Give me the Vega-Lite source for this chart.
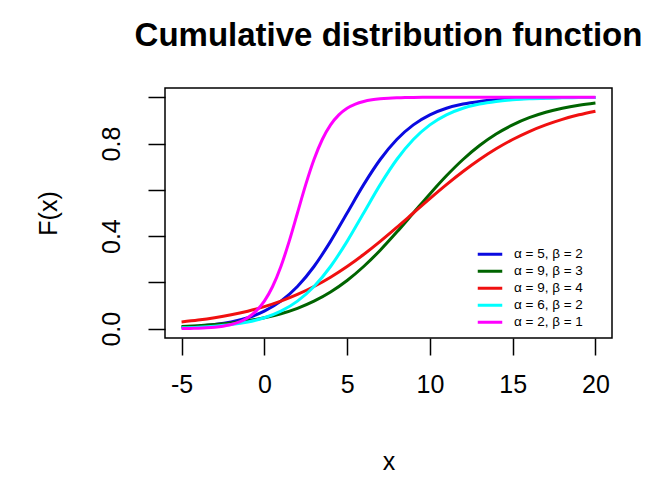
{
  "$schema": "https://vega.github.io/schema/vega-lite/v6.json",
  "autosize": "none",
  "width": 447,
  "height": 250,
  "padding": {"left": 165, "top": 88, "right": 43, "bottom": 143},
  "background": "white",
  "title": {"text": "Cumulative distribution function", "font": "Liberation Sans", "fontSize": 33, "fontWeight": "bold", "color": "black", "anchor": "middle", "baseline": "alphabetic", "offset": 9},
  "config": {
    "view": {"stroke": "black", "strokeWidth": 1.5},
    "font": "Liberation Sans"
  },
  "data": {"values": [
    {"x":-5,"F":0.0067,"g":"α = 5, β = 2"},{"x":-4,"F":0.0110,"g":"α = 5, β = 2"},{"x":-3,"F":0.0180,"g":"α = 5, β = 2"},{"x":-2,"F":0.0293,"g":"α = 5, β = 2"},{"x":-1,"F":0.0474,"g":"α = 5, β = 2"},{"x":0,"F":0.0759,"g":"α = 5, β = 2"},{"x":1,"F":0.1192,"g":"α = 5, β = 2"},{"x":2,"F":0.1824,"g":"α = 5, β = 2"},{"x":3,"F":0.2689,"g":"α = 5, β = 2"},{"x":4,"F":0.3775,"g":"α = 5, β = 2"},{"x":5,"F":0.5,"g":"α = 5, β = 2"},{"x":6,"F":0.6225,"g":"α = 5, β = 2"},{"x":7,"F":0.7311,"g":"α = 5, β = 2"},{"x":8,"F":0.8176,"g":"α = 5, β = 2"},{"x":9,"F":0.8808,"g":"α = 5, β = 2"},{"x":10,"F":0.9241,"g":"α = 5, β = 2"},{"x":11,"F":0.9526,"g":"α = 5, β = 2"},{"x":12,"F":0.9707,"g":"α = 5, β = 2"},{"x":13,"F":0.9820,"g":"α = 5, β = 2"},{"x":14,"F":0.9890,"g":"α = 5, β = 2"},{"x":15,"F":0.9933,"g":"α = 5, β = 2"},{"x":16,"F":0.9959,"g":"α = 5, β = 2"},{"x":17,"F":0.9975,"g":"α = 5, β = 2"},{"x":18,"F":0.9985,"g":"α = 5, β = 2"},{"x":19,"F":0.9991,"g":"α = 5, β = 2"},{"x":20,"F":0.9994,"g":"α = 5, β = 2"},
    {"x":-5,"F":0.0093,"g":"α = 9, β = 3"},{"x":-4,"F":0.0130,"g":"α = 9, β = 3"},{"x":-3,"F":0.0180,"g":"α = 9, β = 3"},{"x":-2,"F":0.0249,"g":"α = 9, β = 3"},{"x":-1,"F":0.0344,"g":"α = 9, β = 3"},{"x":0,"F":0.0474,"g":"α = 9, β = 3"},{"x":1,"F":0.0650,"g":"α = 9, β = 3"},{"x":2,"F":0.0884,"g":"α = 9, β = 3"},{"x":3,"F":0.1192,"g":"α = 9, β = 3"},{"x":4,"F":0.1589,"g":"α = 9, β = 3"},{"x":5,"F":0.2086,"g":"α = 9, β = 3"},{"x":6,"F":0.2689,"g":"α = 9, β = 3"},{"x":7,"F":0.3392,"g":"α = 9, β = 3"},{"x":8,"F":0.4174,"g":"α = 9, β = 3"},{"x":9,"F":0.5,"g":"α = 9, β = 3"},{"x":10,"F":0.5826,"g":"α = 9, β = 3"},{"x":11,"F":0.6608,"g":"α = 9, β = 3"},{"x":12,"F":0.7311,"g":"α = 9, β = 3"},{"x":13,"F":0.7914,"g":"α = 9, β = 3"},{"x":14,"F":0.8411,"g":"α = 9, β = 3"},{"x":15,"F":0.8808,"g":"α = 9, β = 3"},{"x":16,"F":0.9116,"g":"α = 9, β = 3"},{"x":17,"F":0.9350,"g":"α = 9, β = 3"},{"x":18,"F":0.9526,"g":"α = 9, β = 3"},{"x":19,"F":0.9656,"g":"α = 9, β = 3"},{"x":20,"F":0.9751,"g":"α = 9, β = 3"},
    {"x":-5,"F":0.0293,"g":"α = 9, β = 4"},{"x":-4,"F":0.0373,"g":"α = 9, β = 4"},{"x":-3,"F":0.0474,"g":"α = 9, β = 4"},{"x":-2,"F":0.0601,"g":"α = 9, β = 4"},{"x":-1,"F":0.0759,"g":"α = 9, β = 4"},{"x":0,"F":0.0953,"g":"α = 9, β = 4"},{"x":1,"F":0.1192,"g":"α = 9, β = 4"},{"x":2,"F":0.1480,"g":"α = 9, β = 4"},{"x":3,"F":0.1824,"g":"α = 9, β = 4"},{"x":4,"F":0.2227,"g":"α = 9, β = 4"},{"x":5,"F":0.2689,"g":"α = 9, β = 4"},{"x":6,"F":0.3208,"g":"α = 9, β = 4"},{"x":7,"F":0.3775,"g":"α = 9, β = 4"},{"x":8,"F":0.4378,"g":"α = 9, β = 4"},{"x":9,"F":0.5,"g":"α = 9, β = 4"},{"x":10,"F":0.5622,"g":"α = 9, β = 4"},{"x":11,"F":0.6225,"g":"α = 9, β = 4"},{"x":12,"F":0.6792,"g":"α = 9, β = 4"},{"x":13,"F":0.7311,"g":"α = 9, β = 4"},{"x":14,"F":0.7773,"g":"α = 9, β = 4"},{"x":15,"F":0.8176,"g":"α = 9, β = 4"},{"x":16,"F":0.8520,"g":"α = 9, β = 4"},{"x":17,"F":0.8808,"g":"α = 9, β = 4"},{"x":18,"F":0.9047,"g":"α = 9, β = 4"},{"x":19,"F":0.9241,"g":"α = 9, β = 4"},{"x":20,"F":0.9399,"g":"α = 9, β = 4"},
    {"x":-5,"F":0.0041,"g":"α = 6, β = 2"},{"x":-4,"F":0.0067,"g":"α = 6, β = 2"},{"x":-3,"F":0.0110,"g":"α = 6, β = 2"},{"x":-2,"F":0.0180,"g":"α = 6, β = 2"},{"x":-1,"F":0.0293,"g":"α = 6, β = 2"},{"x":0,"F":0.0474,"g":"α = 6, β = 2"},{"x":1,"F":0.0759,"g":"α = 6, β = 2"},{"x":2,"F":0.1192,"g":"α = 6, β = 2"},{"x":3,"F":0.1824,"g":"α = 6, β = 2"},{"x":4,"F":0.2689,"g":"α = 6, β = 2"},{"x":5,"F":0.3775,"g":"α = 6, β = 2"},{"x":6,"F":0.5,"g":"α = 6, β = 2"},{"x":7,"F":0.6225,"g":"α = 6, β = 2"},{"x":8,"F":0.7311,"g":"α = 6, β = 2"},{"x":9,"F":0.8176,"g":"α = 6, β = 2"},{"x":10,"F":0.8808,"g":"α = 6, β = 2"},{"x":11,"F":0.9241,"g":"α = 6, β = 2"},{"x":12,"F":0.9526,"g":"α = 6, β = 2"},{"x":13,"F":0.9707,"g":"α = 6, β = 2"},{"x":14,"F":0.9820,"g":"α = 6, β = 2"},{"x":15,"F":0.9890,"g":"α = 6, β = 2"},{"x":16,"F":0.9933,"g":"α = 6, β = 2"},{"x":17,"F":0.9959,"g":"α = 6, β = 2"},{"x":18,"F":0.9975,"g":"α = 6, β = 2"},{"x":19,"F":0.9985,"g":"α = 6, β = 2"},{"x":20,"F":0.9991,"g":"α = 6, β = 2"},
    {"x":-5,"F":0.0009,"g":"α = 2, β = 1"},{"x":-4.5,"F":0.0015,"g":"α = 2, β = 1"},{"x":-4,"F":0.0025,"g":"α = 2, β = 1"},{"x":-3.5,"F":0.0041,"g":"α = 2, β = 1"},{"x":-3,"F":0.0067,"g":"α = 2, β = 1"},{"x":-2.5,"F":0.0110,"g":"α = 2, β = 1"},{"x":-2,"F":0.0180,"g":"α = 2, β = 1"},{"x":-1.5,"F":0.0293,"g":"α = 2, β = 1"},{"x":-1,"F":0.0474,"g":"α = 2, β = 1"},{"x":-0.5,"F":0.0759,"g":"α = 2, β = 1"},{"x":0,"F":0.1192,"g":"α = 2, β = 1"},{"x":0.5,"F":0.1824,"g":"α = 2, β = 1"},{"x":1,"F":0.2689,"g":"α = 2, β = 1"},{"x":1.5,"F":0.3775,"g":"α = 2, β = 1"},{"x":2,"F":0.5,"g":"α = 2, β = 1"},{"x":2.5,"F":0.6225,"g":"α = 2, β = 1"},{"x":3,"F":0.7311,"g":"α = 2, β = 1"},{"x":3.5,"F":0.8176,"g":"α = 2, β = 1"},{"x":4,"F":0.8808,"g":"α = 2, β = 1"},{"x":4.5,"F":0.9241,"g":"α = 2, β = 1"},{"x":5,"F":0.9526,"g":"α = 2, β = 1"},{"x":5.5,"F":0.9707,"g":"α = 2, β = 1"},{"x":6,"F":0.9820,"g":"α = 2, β = 1"},{"x":6.5,"F":0.9890,"g":"α = 2, β = 1"},{"x":7,"F":0.9933,"g":"α = 2, β = 1"},{"x":7.5,"F":0.9959,"g":"α = 2, β = 1"},{"x":8,"F":0.9975,"g":"α = 2, β = 1"},{"x":8.5,"F":0.9985,"g":"α = 2, β = 1"},{"x":9,"F":0.9991,"g":"α = 2, β = 1"},{"x":10,"F":0.9997,"g":"α = 2, β = 1"},{"x":11,"F":0.9999,"g":"α = 2, β = 1"},{"x":12,"F":1.0,"g":"α = 2, β = 1"},{"x":14,"F":1.0,"g":"α = 2, β = 1"},{"x":16,"F":1.0,"g":"α = 2, β = 1"},{"x":18,"F":1.0,"g":"α = 2, β = 1"},{"x":20,"F":1.0,"g":"α = 2, β = 1"}
  ]},
  "mark": {"type": "line", "strokeWidth": 3, "interpolate": "monotone", "clip": true},
  "encoding": {
    "x": {"field": "x", "type": "quantitative", "scale": {"domain": [-6, 21], "nice": false, "zero": false},
      "axis": {"values": [-5, 0, 5, 10, 15, 20], "domain": false, "grid": false, "tickSize": 17, "tickWidth": 1.5, "tickColor": "black",
        "labelExpr": "replace(datum.label, '−', '-')",
        "labelFontSize": 25, "labelColor": "black", "labelPadding": 17, "labelFont": "Liberation Sans",
        "title": "x", "titleFontSize": 25, "titleFontWeight": "normal", "titleColor": "black", "titlePadding": 52, "titleFont": "Liberation Sans"}},
    "y": {"field": "F", "type": "quantitative", "scale": {"domain": [-0.04, 1.04], "nice": false, "zero": false},
      "axis": {"values": [0, 0.2, 0.4, 0.6, 0.8, 1.0], "domain": false, "grid": false, "tickSize": 17, "tickWidth": 1.5, "tickColor": "black",
        "labelExpr": "datum.value == 0 ? '0.0' : datum.value == 0.4 ? '0.4' : datum.value == 0.8 ? '0.8' : ''",
        "labelAngle": 270, "labelAlign": "center", "labelBaseline": "alphabetic", "labelFontSize": 25, "labelColor": "black", "labelPadding": 29, "labelFont": "Liberation Sans",
        "title": "F(x)", "titleFontSize": 25, "titleFontWeight": "normal", "titleColor": "black", "titlePadding": 38, "titleFont": "Liberation Sans"}},
    "color": {"field": "g", "type": "nominal",
      "scale": {"domain": ["α = 5, β = 2", "α = 9, β = 3", "α = 9, β = 4", "α = 6, β = 2", "α = 2, β = 1"], "range": ["#0a0ae0", "#006400", "#f01010", "#00ffff", "#ff00ff"]},
      "legend": {"orient": "none", "legendX": 311, "legendY": 158, "title": null, "symbolType": "stroke", "symbolSize": 600, "symbolStrokeWidth": 3,
        "clipHeight": 16.5, "rowPadding": 0,
        "labelFontSize": 13.5, "labelColor": "black", "labelFont": "Liberation Sans", "labelOffset": 10}}
  }
}
